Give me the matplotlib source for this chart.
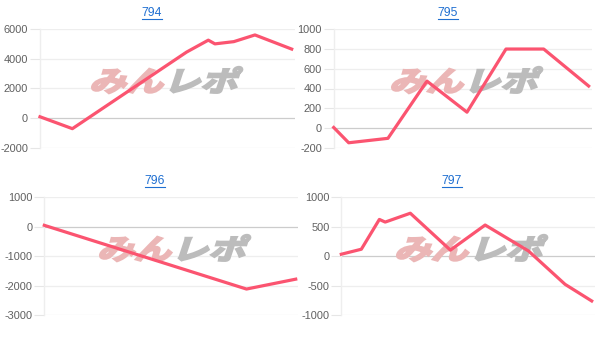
import matplotlib
matplotlib.use("Agg")
import matplotlib.pyplot as plt
from matplotlib.textpath import TextPath
from matplotlib.patches import PathPatch
from matplotlib.font_manager import FontProperties
from matplotlib.transforms import Affine2D, IdentityTransform
from matplotlib.lines import Line2D

plt.rcParams['axes.unicode_minus'] = False
plt.rcParams['font.family'] = ['Liberation Sans', 'DejaVu Sans']

W, H = 604, 347

titles = ["794", "795", "796", "797"]

x794 = [0, 12.7, 57.5, 66.0, 68.6, 76.0, 84.3, 98.7]
y794 = [100, -700, 4450, 5250, 5000, 5150, 5600, 4650]

x795 = [0, 5.8, 21.0, 36.1, 51.6, 66.7, 81.3, 98.7]
y795 = [5, -150, -105, 475, 160, 800, 800, 425]

x796 = [0, 79.7, 99.1]
y796 = [50, -2110, -1775]

x797 = [0, 7.9, 15.0, 17.3, 27.2, 43.0, 56.7, 73.8, 88.2, 98.7]
y797 = [35, 120, 625, 580, 730, 105, 530, 90, -475, -757]

yticks = [
    [-2000, 0, 2000, 4000, 6000],
    [-200, 0, 200, 400, 600, 800, 1000],
    [-3000, -2000, -1000, 0, 1000],
    [-1000, -500, 0, 500, 1000],
]
series = [(x794, y794), (x795, y795), (x796, y796), (x797, y797)]

# layout in pixels: (left, right, top, bottom)
boxes = [
    (40.0, 295.0, 29.0, 148.0),
    (333.7, 592.0, 29.3, 147.7),
    (44.3, 298.0, 197.3, 315.3),
    (341.3, 595.0, 197.3, 315.3),
]
title_pos = [(152, 13), (448, 13), (155, 181), (452, 181)]
wm_pos = [(162, 80), (462, 80), (170, 248), (467, 248)]

line_color = '#fb5470'
grid_color = '#eeeeee'
zero_color = '#cccccc'
title_color = '#1f6fd1'

fig = plt.figure(figsize=(W / 100, H / 100), dpi=100)

fp_wm = FontProperties(family='Noto Sans CJK JP', weight='bold')
tp_a = TextPath((0, 0), 'みん', size=1, prop=fp_wm)
tp_b = TextPath((0, 0), 'レポ', size=1, prop=fp_wm)

title_texts = []
for i in range(4):
    l, r, t, b = boxes[i]
    ax = fig.add_axes([l / W, 1 - b / H, (r - l) / W, (b - t) / H])
    xs, ys = series[i]
    yt = yticks[i]
    ax.set_xlim(0, 100)
    ax.set_ylim(yt[0], yt[-1])
    ax.set_yticks(yt)
    ax.set_yticklabels([str(v) for v in yt])
    ax.set_xticks([])
    for s in ['top', 'right', 'bottom']:
        ax.spines[s].set_visible(False)
    ax.spines['left'].set_color('#eeeeee')
    ax.spines['left'].set_linewidth(1.0)
    ax.tick_params(axis='y', length=7, width=0.8, color='#e6e6e6', pad=1.5,
                   labelsize=7.9, labelcolor='#606060')
    for v in yt:
        ax.axhline(v, color=zero_color if v == 0 else grid_color, lw=0.9, zorder=0.5)
    ax.plot(xs, ys, color=line_color, lw=2.3, solid_joinstyle='round', zorder=3,
            clip_on=False)

    # watermark
    cx, cy = wm_pos[i]
    sx, sy = 37.0, 28.0
    ext_a = tp_a.get_extents()
    ext_b = tp_b.get_extents()
    total_w = ext_a.x1 + 0.05 + ext_b.x1
    ox = cx - total_w * sx / 2
    oy = (H - cy) - 0.40 * sy
    tr_a = Affine2D().skew_deg(14, 0).scale(sx, sy).translate(ox, oy)
    tr_b = Affine2D().skew_deg(14, 0).scale(sx, sy).translate(ox + (ext_a.x1 + 0.05) * sx, oy)
    pa = PathPatch(tr_a.transform_path(tp_a), facecolor='#ebb6b6', edgecolor='#ebb6b6',
                   lw=1.6, transform=IdentityTransform(), zorder=1.5, clip_on=False)
    pb = PathPatch(tr_b.transform_path(tp_b), facecolor='#bcbcbc', edgecolor='#bcbcbc',
                   lw=1.6, transform=IdentityTransform(), zorder=1.5, clip_on=False)
    ax.add_artist(pa)
    ax.add_artist(pb)

    tx, ty = title_pos[i]
    txt = fig.text(tx / W, 1 - ty / H, titles[i], ha='center', va='center',
                   fontsize=8.7, color=title_color)
    title_texts.append(txt)

fig.canvas.draw()
renderer = fig.canvas.get_renderer()
for txt in title_texts:
    bb = txt.get_window_extent(renderer)
    yline = bb.y0 + 0.3
    fig.add_artist(Line2D([bb.x0 / W, bb.x1 / W], [yline / H, yline / H],
                          color=title_color, lw=0.8, transform=fig.transFigure))

fig.savefig('out.png', dpi=100, facecolor='white')
